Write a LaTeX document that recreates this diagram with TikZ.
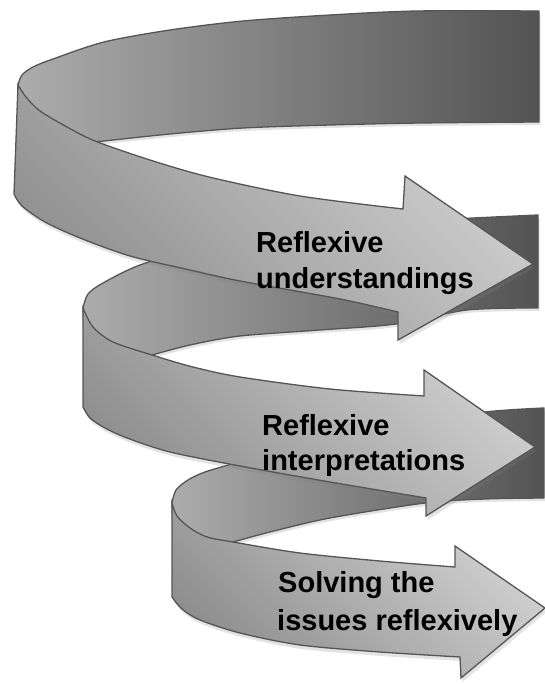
\documentclass[tikz,border=0pt]{standalone}
\usepackage{fontspec}
\setmainfont{Liberation Sans}
\usetikzlibrary{shadows}
\definecolor{edgegray}{HTML}{555555}
\definecolor{backL}{HTML}{ACACAC}
\definecolor{backR}{HTML}{535353}
\definecolor{frontD}{HTML}{8E8E8E}
\definecolor{frontL}{HTML}{D2D2D2}
\begin{document}
\begin{tikzpicture}[x=1pt,y=-1pt,
  backpart/.style={draw=edgegray, line width=1.3pt, line join=round,
    left color=backL, right color=backR,
    drop shadow={shadow xshift=1.5pt, shadow yshift=-3pt, opacity=0.22}},
  frontpart/.style={draw=edgegray, line width=1.3pt, line join=miter,
    left color=frontD, right color=frontL, shading angle=135,
    drop shadow={shadow xshift=1.5pt, shadow yshift=-4pt, opacity=0.22}},
  lbl/.style={font=\bfseries\fontsize{29}{35}\selectfont, inner sep=0pt,
    anchor=base west, text=black}]
\useasboundingbox (0,0) rectangle (545,684);

% ---- level 1 back band
\path[backpart] plot[smooth] coordinates {(18,85) (22,75) (33,67) (53,59) (104,42) (170,30) (243,21) (330,15) (417,11) (539,11)}
  -- (539,122)
  -- plot[smooth] coordinates {(539,122) (420,123) (330,125) (243,128) (170,134) (95,142)}
  -- (60,150) -- (19,112) -- cycle;

% ---- level 2 back band
\path[backpart] plot[smooth] coordinates {(83,308) (88,294) (103,283) (140,265) (200,248) (300,232) (400,222) (538,215)}
  -- (538,308)
  -- plot[smooth] coordinates {(538,308) (467,310) (396,324) (320,330) (240,336) (190,345) (152,355)}
  -- (120,375) -- (84,335) -- cycle;

% ---- level 1 front band with arrow
\path[frontpart] plot[smooth] coordinates {(18,85) (26,97) (40,111) (67,127) (95,141) (150,160) (209,177) (300,196) (403,209)}
  -- (405,176) -- (533,264) -- (398,340) -- (398,312)
  -- plot[smooth] coordinates {(398,312) (340,299) (240,281) (190,270) (130,256) (80,238) (45,222) (22,206) (14,194)}
  -- cycle;

% ---- level 3 back band
\path[backpart] plot[smooth] coordinates {(172,503) (176,490) (188,480) (205,472) (240,462) (300,448) (400,425) (485,412) (544,408)}
  -- (544,498)
  -- plot[smooth] coordinates {(544,498) (485,499) (425,503) (330,518) (270,532) (233,542)}
  -- (200,570) -- (173,530) -- cycle;

% ---- level 2 front band with arrow
\path[frontpart] plot[smooth] coordinates {(83,308) (93,327) (113,342) (152,355) (193,367) (240,377) (330,389) (424,396)}
  -- (424,370) -- (535,447) -- (426,516) -- (426,498)
  -- plot[smooth] coordinates {(426,498) (330,482) (240,466) (170,452) (127,438) (105,428) (90,418) (83,407)}
  -- cycle;

% ---- level 3 front band with arrow
\path[frontpart] plot[smooth] coordinates {(172,503) (177,516) (190,528) (207,537) (233,542) (300,553) (380,561) (455,567)}
  -- (455,546) -- (545,608) -- (461,678) -- (460,657)
  -- plot[smooth] coordinates {(460,657) (380,652) (300,645) (240,633) (200,620) (182,609) (172,597)}
  -- cycle;

% ---- labels
\node[lbl] (l1a) at (256,253) {Reflexive};
\node[lbl] (l1b) at (256,288) {understandings};
\node[lbl] (l2a) at (262,435) {Reflexive};
\node[lbl] (l2b) at (262,470) {interpretations};
\node[lbl] (l3a) at (278,592) {Solving the};
\node[lbl] (l3b) at (277,630) {issues reflexively};
\end{tikzpicture}
\end{document}
